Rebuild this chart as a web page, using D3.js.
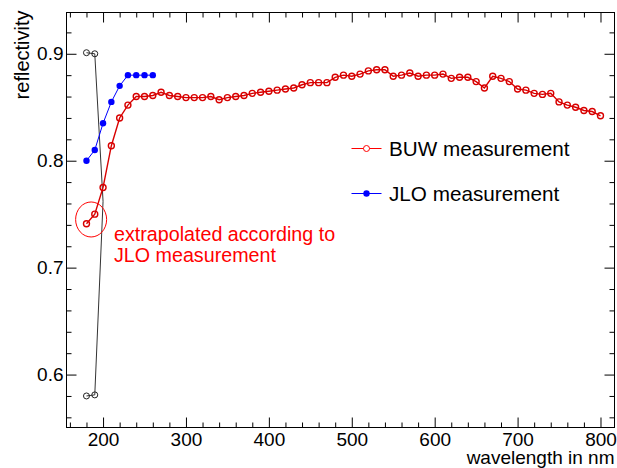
<!DOCTYPE html>
<html><head><meta charset="utf-8">
<script src="https://cdn.jsdelivr.net/npm/d3@7"></script>
<style>
html,body{margin:0;padding:0;background:#fff;}
svg{display:block;font-family:"Liberation Sans",Arial,Helvetica,sans-serif;}
</style></head>
<body>
<svg id="c" width="617" height="468"></svg>
<script>
// ---- data ----
const buwWavelength = [180,190,200,210,220,230,240,250,260,270,280,290,300,310,320,330,340,350,360,370,380,390,400,410,420,430,440,450,460,470,480,490,500,510,520,530,540,550,560,570,580,590,600,610,620,630,640,650,660,670,680,690,700,710,720,730,740,750,760,770,780,790,800];
const buwReflectivity = [0.741,0.750,0.775,0.814,0.840,0.852,0.860,0.860,0.861,0.864,0.861,0.860,0.859,0.859,0.859,0.860,0.857,0.859,0.860,0.861,0.863,0.864,0.865,0.866,0.867,0.868,0.871,0.873,0.873,0.873,0.878,0.880,0.879,0.881,0.884,0.885,0.885,0.879,0.880,0.882,0.879,0.880,0.880,0.881,0.877,0.878,0.878,0.874,0.868,0.879,0.877,0.874,0.867,0.866,0.863,0.862,0.863,0.855,0.852,0.850,0.847,0.846,0.842];
const jloWavelength = [180,190,200,210,220,230,240,250,260];
const jloReflectivity = [0.800,0.810,0.835,0.855,0.870,0.880,0.880,0.880,0.880];
const scaleWavelength = [180,190,200,190,180];
const scaleReflectivity = [0.901,0.900,0.762,0.581,0.580];
const scaleMarked = [true,true,false,true,true];
const xTicks = [200,300,400,500,600,700,800];
const yTicks = [0.6,0.7,0.8,0.9];
const legendLabels = ["BUW measurement","JLO measurement"];
const annotationLines = ["extrapolated according to","JLO measurement"];
const xTitle = "wavelength in nm";
const yTitle = "reflectivity";

// ---- layout ----
const L = 66.5, R = 614.5, T = 12.5, B = 427.5;
const svg = d3.select("#c");
const x = d3.scaleLinear().domain([155.9, 816.9]).range([L, R]);
const y = d3.scaleLinear().domain([0.5505, 0.9386]).range([B, T]);
const fs = 19;

function styleAxis(g){
  g.select(".domain").remove();
  g.selectAll(".tick line").attr("stroke","#000").attr("stroke-width",1);
  g.selectAll("text").attr("font-size",fs).attr("fill","#000").attr("font-family",null);
}
const xMinor = d3.range(160, 817, 20).filter(v => v % 100 !== 0);
const yMinor = d3.range(56, 93, 2).map(v => v/100).filter(v => Math.round(v*100) % 10 !== 0);

// bottom
svg.append("g").attr("transform",`translate(0,${B})`)
  .call(d3.axisBottom(x).tickValues(xTicks).tickSize(-10).tickSizeOuter(0).tickPadding(5).tickFormat(d3.format("d")))
  .call(styleAxis);
svg.append("g").attr("transform",`translate(0,${B})`)
  .call(d3.axisBottom(x).tickValues(xMinor).tickSize(-5).tickSizeOuter(0).tickFormat(""))
  .call(styleAxis);
// top
svg.append("g").attr("transform",`translate(0,${T})`)
  .call(d3.axisTop(x).tickValues(xTicks).tickSize(-10).tickSizeOuter(0).tickFormat(""))
  .call(styleAxis);
svg.append("g").attr("transform",`translate(0,${T})`)
  .call(d3.axisTop(x).tickValues(xMinor).tickSize(-5).tickSizeOuter(0).tickFormat(""))
  .call(styleAxis);
// left
svg.append("g").attr("transform",`translate(${L},0)`)
  .call(d3.axisLeft(y).tickValues(yTicks).tickSize(-10).tickSizeOuter(0).tickPadding(3).tickFormat(d3.format(".1f")))
  .call(styleAxis);
svg.append("g").attr("transform",`translate(${L},0)`)
  .call(d3.axisLeft(y).tickValues(yMinor).tickSize(-5).tickSizeOuter(0).tickFormat(""))
  .call(styleAxis);
// right
svg.append("g").attr("transform",`translate(${R},0)`)
  .call(d3.axisRight(y).tickValues(yTicks).tickSize(-10).tickSizeOuter(0).tickFormat(""))
  .call(styleAxis);
svg.append("g").attr("transform",`translate(${R},0)`)
  .call(d3.axisRight(y).tickValues(yMinor).tickSize(-5).tickSizeOuter(0).tickFormat(""))
  .call(styleAxis);

// frame
svg.append("rect").attr("x",L).attr("y",T).attr("width",R-L).attr("height",B-T)
  .attr("fill","none").attr("stroke","#000").attr("stroke-width",1);

// titles
svg.append("text").attr("x",R).attr("y",464).attr("text-anchor","end")
  .attr("font-size",fs).text(xTitle);
svg.append("text").attr("transform",`translate(29,${T-2}) rotate(-90)`).attr("text-anchor","end")
  .attr("font-size",20).text(yTitle);

const line = d3.line().x(d=>x(d[0])).y(d=>y(d[1]));

// black scale graph
const blk = scaleWavelength.map((w,i)=>[w, scaleReflectivity[i], scaleMarked[i]]);
svg.append("path").attr("d",line(blk)).attr("fill","none").attr("stroke","#333").attr("stroke-width",1);
svg.selectAll(".bm").data(blk.filter(d=>d[2])).enter().append("circle")
  .attr("cx",d=>x(d[0])).attr("cy",d=>y(d[1])).attr("r",3)
  .attr("fill","none").attr("stroke","#222").attr("stroke-width",1);

// blue JLO
const jlo = jloWavelength.map((w,i)=>[w, jloReflectivity[i]]);
svg.append("path").attr("d",line(jlo)).attr("fill","none").attr("stroke","#0000ff").attr("stroke-width",1);
svg.selectAll(".jm").data(jlo).enter().append("circle")
  .attr("cx",d=>x(d[0])).attr("cy",d=>y(d[1])).attr("r",3.2).attr("fill","#0000ff");

// red BUW
const buw = buwWavelength.map((w,i)=>[w, buwReflectivity[i]]);
svg.append("path").attr("d",line(buw)).attr("fill","none").attr("stroke","#d80000").attr("stroke-width",1.4);
svg.selectAll(".rm").data(buw).enter().append("circle")
  .attr("cx",d=>x(d[0])).attr("cy",d=>y(d[1])).attr("r",3)
  .attr("fill","none").attr("stroke","#d80000").attr("stroke-width",1.4);

// annotation ellipse around the extrapolated points
const ex = (x(buwWavelength[0]) + x(buwWavelength[1]))/2;
const ey = (y(buwReflectivity[0]) + y(buwReflectivity[1]))/2;
svg.append("ellipse").attr("cx",ex+0.5).attr("cy",ey+0.5).attr("rx",15.5).attr("ry",17.5)
  .attr("fill","none").attr("stroke","#ff0000").attr("stroke-width",1);
svg.append("text").attr("x",114).attr("y",241).attr("font-size",19.7).attr("fill","#ff0000").text(annotationLines[0]);
svg.append("text").attr("x",114).attr("y",262).attr("font-size",19.7).attr("fill","#ff0000").text(annotationLines[1]);

// legend
const legY = [148.5, 193.5];
const legColors = ["#ff0000","#0000ff"];
legendLabels.forEach((lab,i)=>{
  const g = svg.append("g");
  g.append("line").attr("x1",351.5).attr("x2",381.5).attr("y1",legY[i]).attr("y2",legY[i])
    .attr("stroke",legColors[i]).attr("stroke-width",1);
  if(i===0) g.append("circle").attr("cx",366.5).attr("cy",legY[i]).attr("r",3).attr("fill","#fff").attr("stroke",legColors[i]).attr("stroke-width",1);
  else g.append("circle").attr("cx",366.5).attr("cy",legY[i]).attr("r",3.2).attr("fill",legColors[i]);
  g.append("text").attr("x",389).attr("y",legY[i]).attr("dy","0.36em").attr("font-size",20.7).text(lab);
});
</script>
</body></html>
